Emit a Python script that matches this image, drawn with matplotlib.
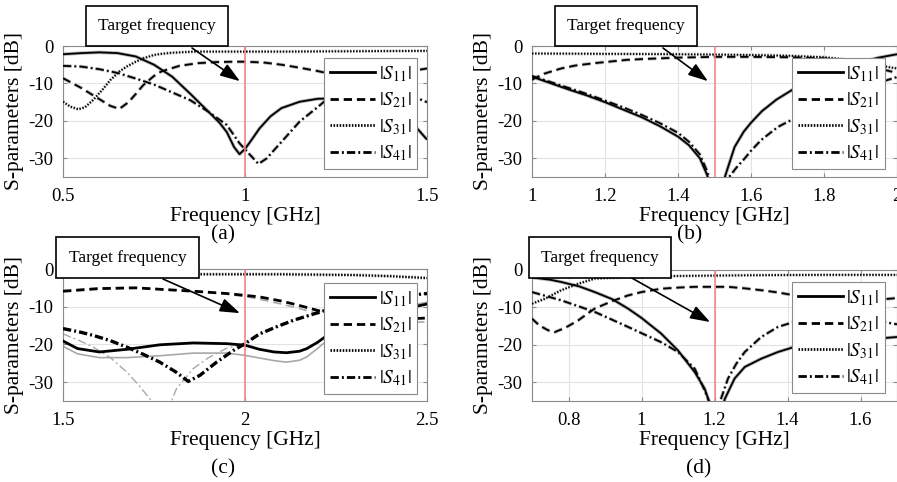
import matplotlib
matplotlib.use("Agg")
import matplotlib.pyplot as plt

plt.rcParams['font.family'] = ['Liberation Serif', 'DejaVu Serif']
plt.rcParams['mathtext.fontset'] = 'stix'
plt.rcParams['lines.scale_dashes'] = False

# ---------------- data ----------------
series_labels = [r'$|S_{11}|$', r'$|S_{21}|$', r'$|S_{31}|$', r'$|S_{41}|$']
target_text = "Target frequency"
xlabel_text = "Frequency [GHz]"
ylabel_text = "S-parameters [dB]"
panel_tags = ["(a)", "(b)", "(c)", "(d)"]
y_ticks = [0, -10, -20, -30]
y_ticklabels = ["0", "-10", "-20", "-30"]

# Panel (a)
a_xlim = [0.5, 1.5]
a_target = 1.0
a_xticks = [0.5, 1.0, 1.5]
a_xticklabels = ["0.5", "1", "1.5"]
a_S11_f = [0.5, 0.55, 0.6, 0.65, 0.7, 0.75, 0.8, 0.85, 0.9, 0.93, 0.95, 0.97, 0.985, 1.0, 1.015, 1.04,
           1.07, 1.1, 1.15, 1.2, 1.25, 1.3, 1.35, 1.4, 1.45, 1.5]
a_S11 = [-2.2, -1.9, -1.7, -1.9, -2.8, -5.0, -8.2, -12.8, -17.6, -20.5, -23.0, -27.0, -28.9, -27.5, -25.5, -22.0,
         -18.8, -16.6, -14.9, -14.1, -14.0, -14.3, -15.0, -16.5, -19.5, -25.0]
a_S21_f = [0.5, 0.55, 0.6, 0.63, 0.655, 0.68, 0.7, 0.72, 0.75, 0.77, 0.82, 0.87, 0.92, 0.97, 1.0, 1.05, 1.1,
           1.15, 1.2, 1.25, 1.3, 1.35, 1.4, 1.45, 1.5]
a_S21 = [-8.6, -11.2, -14.2, -16.0, -16.8, -15.0, -12.8, -10.5, -8.0, -6.8, -5.3, -4.6, -4.3, -4.2, -4.2, -4.4, -5.0,
         -5.8, -6.7, -7.8, -8.3, -8.3, -7.8, -6.8, -6.0]
a_S31_f = [0.5, 0.52, 0.542, 0.56, 0.583, 0.61, 0.63, 0.655, 0.675, 0.7, 0.72, 0.75, 0.77, 0.8, 0.86, 0.95, 1.1,
           1.3, 1.5]
a_S31 = [-14.9, -16.2, -16.9, -16.4, -14.4, -11.5, -9.1, -6.8, -5.5, -4.2, -3.3, -2.4, -2.1, -1.8, -1.5, -1.5, -1.5,
         -1.4, -1.3]
a_S41_f = [0.5, 0.55, 0.6, 0.65, 0.7, 0.75, 0.8, 0.85, 0.9, 0.95, 0.985, 1.014, 1.037, 1.06, 1.08, 1.105, 1.15,
           1.2, 1.25, 1.3, 1.35, 1.4, 1.45, 1.5]
a_S41 = [-5.3, -5.5, -6.2, -7.2, -8.7, -10.3, -12.4, -14.5, -17.6, -21.1, -26.0, -29.1, -31.5, -30.0, -27.8, -25.1,
         -20.2, -16.3, -12.2, -10.5, -10.5, -11.5, -13.0, -15.0]

# Panel (b)
b_xlim = [1.0, 2.0]
b_target = 1.5
b_xticks = [1.0, 1.2, 1.4, 1.6, 1.8, 2.0]
b_xticklabels = ["1", "1.2", "1.4", "1.6", "1.8", "2"]
b_S11_f = [1.0, 1.05, 1.1, 1.15, 1.2, 1.25, 1.3, 1.35, 1.4, 1.43, 1.46, 1.48, 1.505, 1.53, 1.555, 1.58, 1.6,
           1.63, 1.67, 1.72, 1.75, 1.8, 1.85, 1.9, 1.95, 2.0]
b_S11 = [-8.2, -9.9, -11.6, -13.2, -15.0, -17.0, -19.0, -21.4, -24.2, -26.5, -30.0, -34.5, -45.0, -34.5, -27.0,
         -22.9, -20.5, -17.4, -14.3, -11.3, -9.5, -7.5, -5.7, -4.3, -3.1, -2.2]
b_S21_f = [1.0, 1.03, 1.08, 1.12, 1.17, 1.22, 1.26, 1.3, 1.35, 1.4, 1.45, 1.5, 1.6, 1.7, 1.8, 1.85, 1.9, 1.95, 2.0]
b_S21 = [-9.0, -7.5, -6.0, -5.2, -4.6, -4.1, -3.7, -3.5, -3.3, -3.1, -3.0, -2.9, -2.9, -3.0, -3.3, -3.8, -4.8,
         -6.0, -7.2]
b_S31_f = [1.0, 1.2, 1.4, 1.5, 1.6, 1.7, 1.8, 1.85, 1.9, 1.95, 2.0]
b_S31 = [-2.0, -2.1, -2.2, -2.3, -2.4, -2.6, -3.0, -3.5, -4.3, -5.2, -6.0]
b_S41_f = [1.0, 1.05, 1.1, 1.15, 1.2, 1.25, 1.3, 1.35, 1.4, 1.43, 1.46, 1.48, 1.51, 1.54, 1.56, 1.583, 1.6,
           1.628, 1.674, 1.72, 1.75, 1.8, 1.85, 1.9, 1.95, 2.0]
b_S41 = [-8.0, -9.6, -11.2, -12.8, -14.6, -16.4, -18.4, -20.6, -23.2, -25.6, -29.0, -33.5, -45.0, -35.0, -32.5,
         -30.0, -28.0, -25.1, -21.6, -19.3, -18.0, -16.0, -14.0, -11.8, -9.8, -8.3]

# Panel (c)  (black = measured, grey = simulated)
c_xlim = [1.5, 2.5]
c_target = 2.0
c_xticks = [1.5, 2.0, 2.5]
c_xticklabels = ["1.5", "2", "2.5"]
c_S11_f = [1.5, 1.54, 1.6, 1.675, 1.766, 1.858, 1.95, 2.0, 2.04, 2.08, 2.114, 2.15, 2.17, 2.2, 2.22, 2.25, 2.3,
           2.35, 2.4, 2.45, 2.5]
c_S11 = [-19.1, -21.1, -22.0, -21.3, -20.1, -19.6, -19.8, -20.2, -21.3, -22.0, -22.2, -21.8, -21.1, -19.4, -18.0,
         -16.3, -14.5, -13.0, -11.5, -10.3, -9.3]
c_S11_sim = [-20.5, -22.5, -23.5, -23.5, -23.0, -22.3, -22.3, -22.9, -23.6, -24.3, -24.7, -24.2, -23.3, -21.0,
             -19.4, -17.2, -15.0, -13.0, -11.0, -9.8, -8.8]
c_S21_f = [1.5, 1.6, 1.7, 1.77, 1.86, 1.95, 2.0, 2.04, 2.1, 2.13, 2.17, 2.2, 2.25, 2.3, 2.35, 2.4, 2.45, 2.5]
c_S21 = [-5.9, -5.2, -5.0, -5.4, -5.9, -6.5, -7.0, -7.4, -8.5, -9.2, -10.2, -11.0, -12.0, -12.8, -13.2, -13.3,
         -13.2, -13.0]
c_S21_sim = [-5.7, -5.0, -4.9, -5.3, -5.9, -6.7, -7.3, -8.0, -9.3, -10.0, -11.0, -11.8, -12.8, -13.5, -14.0,
             -14.2, -14.2, -14.0]
c_S31_f = [1.5, 1.7, 1.9, 2.1, 2.3, 2.4, 2.5]
c_S31 = [-1.3, -1.3, -1.4, -1.4, -1.6, -1.9, -2.4]
c_S41_f = [1.5, 1.55, 1.583, 1.63, 1.675, 1.72, 1.766, 1.81, 1.844, 1.876, 1.922, 1.968, 2.0, 2.04, 2.09, 2.133,
           2.206, 2.25, 2.3, 2.35, 2.4, 2.45, 2.5]
c_S41 = [-15.8, -16.8, -17.6, -19.0, -20.7, -22.6, -24.7, -27.3, -29.8, -28.2, -24.7, -21.6, -19.8, -17.2, -15.2,
         -13.6, -11.4, -10.1, -9.0, -8.2, -7.5, -7.0, -6.5]
c_S41_sim_f = [1.5, 1.55, 1.583, 1.63, 1.675, 1.71, 1.739, 1.77, 1.8, 1.812, 1.858, 1.9, 1.95, 2.0, 2.04, 2.09,
               2.133, 2.206, 2.25, 2.3, 2.35, 2.4, 2.45, 2.5]
c_S41_sim = [-17.2, -19.2, -20.7, -23.5, -27.3, -31.0, -34.5, -45.0, -34.5, -31.7, -26.4, -23.5, -21.0, -19.8,
             -17.2, -15.2, -13.6, -11.4, -10.1, -9.0, -8.2, -7.5, -7.0, -6.5]

# Panel (d)
d_xlim = [0.7, 1.7]
d_target = 1.2
d_xticks = [0.8, 1.0, 1.2, 1.4, 1.6]
d_xticklabels = ["0.8", "1", "1.2", "1.4", "1.6"]
d_S11_f = [0.7, 0.75, 0.78, 0.83, 0.872, 0.92, 0.963, 1.0, 1.054, 1.1, 1.146, 1.173, 1.183, 1.205, 1.228, 1.255,
           1.283, 1.328, 1.374, 1.447, 1.5, 1.55, 1.6, 1.65, 1.7]
d_S11 = [-2.0, -2.6, -3.2, -4.4, -5.9, -7.8, -10.3, -12.8, -17.0, -21.5, -27.3, -31.7, -34.5, -45.0, -34.5, -29.0,
         -25.9, -23.7, -21.9, -19.7, -19.0, -18.7, -18.5, -18.3, -17.9]
d_S21_f = [0.7, 0.72, 0.744, 0.762, 0.79, 0.826, 0.85, 0.872, 0.92, 0.963, 1.0, 1.054, 1.1, 1.146, 1.2, 1.237,
           1.283, 1.328, 1.374, 1.42, 1.47, 1.52, 1.58, 1.64, 1.7]
d_S21 = [-13.0, -14.8, -16.1, -16.6, -15.5, -13.5, -11.8, -10.3, -8.3, -6.8, -5.9, -5.0, -4.7, -4.5, -4.5, -4.5,
         -4.9, -5.4, -6.0, -6.8, -7.5, -8.0, -8.2, -8.0, -7.5]
d_S31_f = [0.7, 0.735, 0.78, 0.826, 0.872, 0.963, 1.1, 1.3, 1.5, 1.7]
d_S31 = [-9.0, -7.7, -5.4, -3.7, -2.3, -1.9, -1.6, -1.4, -1.3, -1.3]
d_S41_f = [0.7, 0.78, 0.872, 0.963, 1.054, 1.1, 1.146, 1.175, 1.187, 1.2, 1.214, 1.237, 1.26, 1.283, 1.328, 1.374,
           1.447, 1.5, 1.55, 1.6, 1.65, 1.7]
d_S41 = [-5.9, -8.1, -11.2, -15.2, -19.3, -21.9, -26.4, -32.6, -35.5, -45.0, -35.5, -29.0, -25.0, -21.9, -17.9,
         -15.2, -13.0, -12.5, -12.5, -13.0, -13.7, -14.5]

# ---------------- styles ----------------
DASH = {'solid': None, 'dash': (0, (6, 3.5)), 'dot': (0, (1.1, 1.1)), 'dashdot': (0, (6, 2.2, 1.4, 2.2))}
styles = ['solid', 'dash', 'dot', 'dashdot']

W, H = 897, 482
fig = plt.figure(figsize=(W / 100, H / 100), dpi=100)


def px_axes(x0, y0, x1, y1):
    return fig.add_axes([x0 / W, 1 - y1 / H, (x1 - x0) / W, (y1 - y0) / H])


def ls(key):
    return '-' if DASH[key] is None else DASH[key]


def style_axes(ax, xlim, xticks, xticklabels, target):
    ax.set_xlim(xlim)
    ax.set_ylim(-35, 0)
    ax.set_xticks(xticks)
    ax.set_xticklabels(xticklabels)
    ax.set_yticks(y_ticks)
    ax.set_yticklabels(y_ticklabels)
    ax.grid(True, color='#e3e3e3', lw=0.8)
    ax.set_axisbelow(True)
    for s in ax.spines.values():
        s.set_color('#8a8a8a')
        s.set_linewidth(0.8)
    ax.tick_params(direction='in', length=3, color='#8a8a8a', labelsize=13.5, top=True, right=True)
    ax.tick_params(axis='x', pad=8)
    ax.tick_params(axis='y', pad=7)
    ax.set_xlabel(xlabel_text, fontsize=15.5, labelpad=1)
    ax.set_ylabel(ylabel_text, fontsize=15.5, labelpad=3)
    ax.axvline(target, color='#f08080', lw=1.1, zorder=5)


def halo_plot(ax, fs, vs):
    for (f, v), st in zip(zip(fs, vs), styles):
        ax.plot(f, v, color='#b4b4b4', lw=2.5, ls=ls(st), zorder=2, solid_capstyle='butt')
    for (f, v), st in zip(zip(fs, vs), styles):
        ax.plot(f, v, color='black', lw=1.3, ls=ls(st), zorder=3, solid_capstyle='butt')


def add_legend(ax, anchor):
    handles = [plt.Line2D([], [], color='black', lw=2.0, ls=ls(st)) for st in styles]
    leg = ax.legend(handles, series_labels, loc='lower right', bbox_to_anchor=anchor, fontsize=14,
                    handlelength=2.3, handletextpad=0.2, borderpad=0.3, labelspacing=0.35,
                    fancybox=False, framealpha=1.0, edgecolor='#8a8a8a', borderaxespad=0)
    leg.get_frame().set_linewidth(0.8)
    leg.set_zorder(10)


def add_target(ax, box_center, start_px, tip_data):
    fig.text(box_center[0] / W, 1 - box_center[1] / H, target_text, ha='center', va='center',
             fontsize=12.5, zorder=20,
             bbox=dict(boxstyle='square,pad=0.7', fc='white', ec='black', lw=1.2))
    ax.annotate('', xy=tip_data, xycoords='data',
                xytext=(start_px[0] / W, 1 - start_px[1] / H), textcoords='figure fraction',
                arrowprops=dict(arrowstyle='-|>,head_length=1.1,head_width=0.38', color='black',
                                lw=1.2, mutation_scale=11, shrinkA=0, shrinkB=0),
                annotation_clip=False, zorder=21)


# (a)
axa = px_axes(63, 46, 427, 177)
halo_plot(axa, [a_S11_f, a_S21_f, a_S31_f, a_S41_f], [a_S11, a_S21, a_S31, a_S41])
style_axes(axa, a_xlim, a_xticks, a_xticklabels, a_target)
add_legend(axa, (0.973, 0.061))
add_target(axa, (157, 26), (192, 48), (0.986, -9.4))

# (b)
axb = px_axes(532, 46, 897, 177)
halo_plot(axb, [b_S11_f, b_S21_f, b_S31_f, b_S41_f], [b_S11, b_S21, b_S31, b_S41])
style_axes(axb, b_xlim, b_xticks, b_xticklabels, b_target)
add_legend(axb, (0.967, 0.061))
add_target(axb, (626, 26), (663, 48), (1.482, -9.4))

# (c)
axc = px_axes(63, 269, 427, 401)
axc.plot(c_S11_f, c_S11_sim, color='#a8a8a8', lw=1.2, zorder=2)
axc.plot(c_S21_f, c_S21_sim, color='#a8a8a8', lw=1.2, ls=ls('dash'), zorder=2)
axc.plot(c_S31_f, c_S31, color='#b4b4b4', lw=2.6, ls=ls('dot'), zorder=2)
axc.plot(c_S41_sim_f, c_S41_sim, color='#a8a8a8', lw=1.0, ls=ls('dashdot'), zorder=2)
axc.plot(c_S11_f, c_S11, color='black', lw=2.0, zorder=3)
axc.plot(c_S21_f, c_S21, color='black', lw=2.0, ls=ls('dash'), zorder=3)
axc.plot(c_S31_f, c_S31, color='black', lw=1.5, ls=ls('dot'), zorder=3)
axc.plot(c_S41_f, c_S41, color='black', lw=2.4, ls=ls('dashdot'), zorder=3)
style_axes(axc, c_xlim, c_xticks, c_xticklabels, c_target)
add_legend(axc, (0.973, 0.053))
add_target(axc, (127.5, 257.5), (163, 279), (1.986, -11.7))

# (d)
axd = px_axes(532, 270, 897, 401)
halo_plot(axd, [d_S11_f, d_S21_f, d_S31_f, d_S41_f], [d_S11, d_S21, d_S31, d_S41])
style_axes(axd, d_xlim, d_xticks, d_xticklabels, d_target)
add_legend(axd, (0.967, 0.061))
add_target(axd, (600, 257.5), (630, 277), (1.188, -13.9))

# panel tags
for tag, (x, y) in zip(panel_tags, [(223, 235), (690, 235), (223, 469), (699, 469)]):
    fig.text(x / W, 1 - y / H, tag, ha='center', va='center', fontsize=15.5)

fig.savefig('out.png', dpi=100)
